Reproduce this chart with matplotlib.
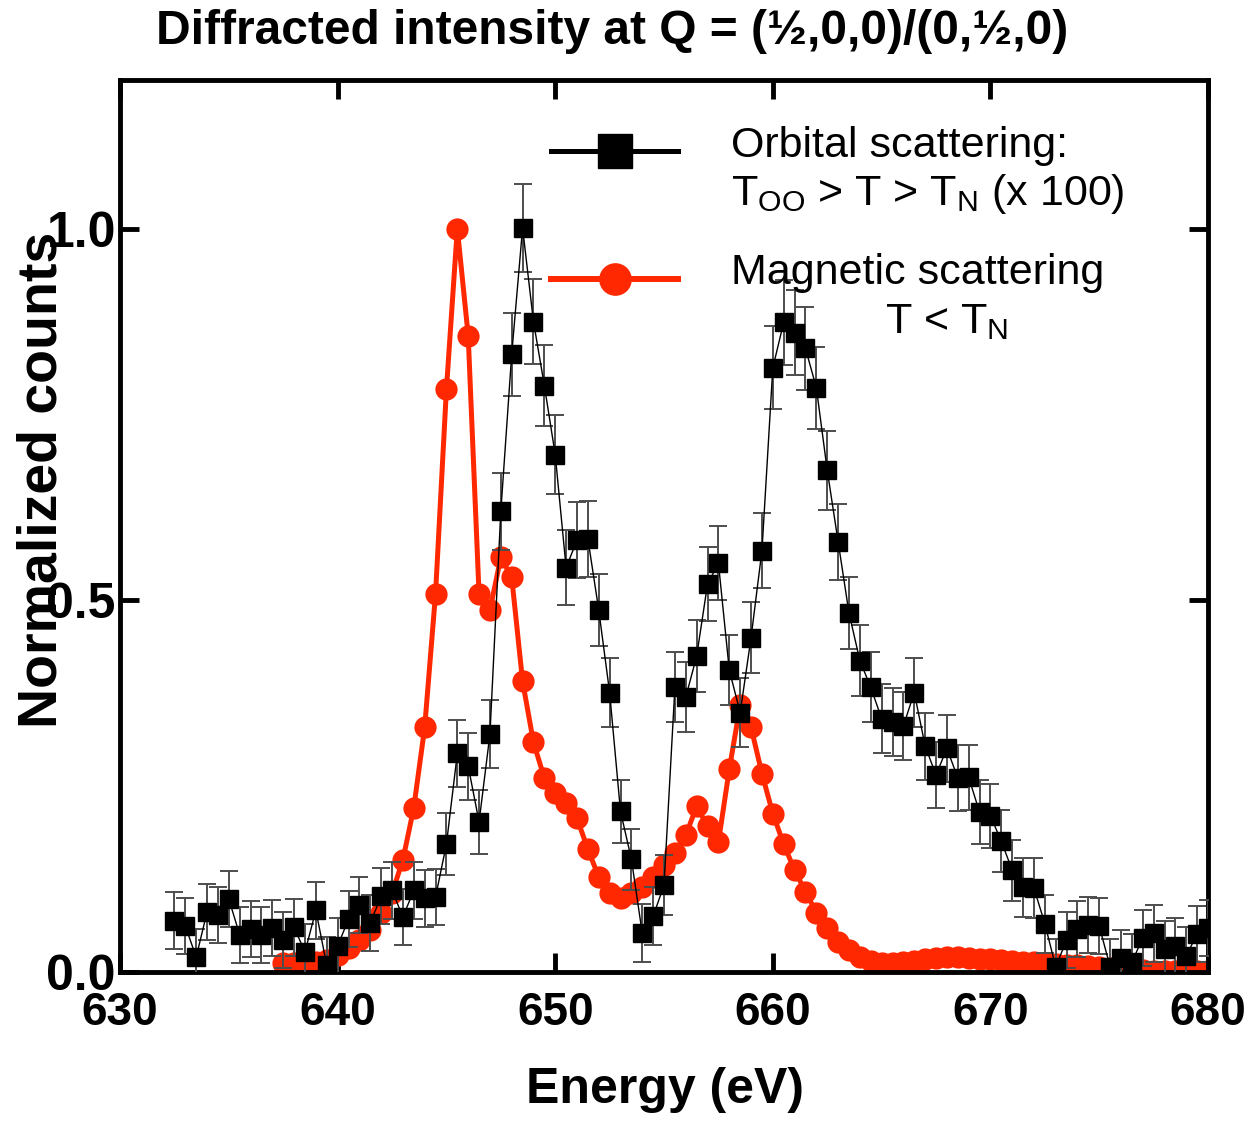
import matplotlib
matplotlib.use("Agg")
import matplotlib.pyplot as plt

plt.rcParams['font.family'] = ['Liberation Sans', 'DejaVu Sans']
plt.rcParams['mathtext.default'] = 'regular'

## Data
energy = [632.5, 633.0, 633.5, 634.0, 634.5, 635.0, 635.5, 636.0, 636.5, 637.0,
          637.5, 638.0, 638.5, 639.0, 639.5, 640.0, 640.5, 641.0, 641.5, 642.0,
          642.5, 643.0, 643.5, 644.0, 644.5, 645.0, 645.5, 646.0, 646.5, 647.0,
          647.5, 648.0, 648.5, 649.0, 649.5, 650.0, 650.5, 651.0, 651.5, 652.0,
          652.5, 653.0, 653.5, 654.0, 654.5, 655.0, 655.5, 656.0, 656.5, 657.0,
          657.5, 658.0, 658.5, 659.0, 659.5, 660.0, 660.5, 661.0, 661.5, 662.0,
          662.5, 663.0, 663.5, 664.0, 664.5, 665.0, 665.5, 666.0, 666.5, 667.0,
          667.5, 668.0, 668.5, 669.0, 669.5, 670.0, 670.5, 671.0, 671.5, 672.0,
          672.5, 673.0, 673.5, 674.0, 674.5, 675.0, 675.5, 676.0, 676.5, 677.0,
          677.5, 678.0, 678.5, 679.0, 679.5, 680.0]

# orbital scattering (x 100), with error bars
orbital = [0.069, 0.062, 0.020, 0.081, 0.077, 0.098, 0.050, 0.058, 0.050, 0.059,
           0.043, 0.060, 0.027, 0.083, 0.009, 0.035, 0.071, 0.090, 0.066, 0.102,
           0.110, 0.074, 0.110, 0.099, 0.101, 0.172, 0.294, 0.277, 0.202, 0.320,
           0.620, 0.831, 1.001, 0.875, 0.789, 0.696, 0.544, 0.581, 0.583, 0.487,
           0.376, 0.216, 0.152, 0.052, 0.075, 0.117, 0.383, 0.370, 0.425, 0.522,
           0.550, 0.406, 0.349, 0.450, 0.567, 0.813, 0.874, 0.860, 0.839, 0.786,
           0.675, 0.579, 0.483, 0.419, 0.383, 0.341, 0.336, 0.331, 0.376, 0.304,
           0.265, 0.301, 0.261, 0.262, 0.215, 0.210, 0.176, 0.137, 0.114, 0.113,
           0.065, 0.007, 0.043, 0.058, 0.063, 0.062, 0.007, 0.019, 0.013, 0.046,
           0.052, 0.031, 0.035, 0.022, 0.051, 0.059]

orbital_err = [0.038, 0.038, 0.038, 0.038, 0.038, 0.038, 0.038, 0.038, 0.038, 0.038,
               0.038, 0.038, 0.038, 0.038, 0.038, 0.038, 0.038, 0.038, 0.038, 0.038,
               0.038, 0.038, 0.038, 0.038, 0.038, 0.042, 0.045, 0.045, 0.043, 0.046,
               0.052, 0.056, 0.059, 0.057, 0.055, 0.053, 0.050, 0.051, 0.051, 0.049,
               0.047, 0.043, 0.041, 0.039, 0.039, 0.040, 0.047, 0.047, 0.048, 0.050,
               0.050, 0.047, 0.046, 0.048, 0.051, 0.056, 0.057, 0.057, 0.056, 0.055,
               0.053, 0.051, 0.049, 0.048, 0.047, 0.046, 0.046, 0.046, 0.047, 0.045,
               0.044, 0.045, 0.044, 0.044, 0.043, 0.043, 0.042, 0.041, 0.040, 0.040,
               0.039, 0.038, 0.038, 0.038, 0.038, 0.038, 0.038, 0.038, 0.038, 0.038,
               0.038, 0.038, 0.038, 0.038, 0.038, 0.038]

# magnetic scattering, starts at 637.5 eV
magnetic_energy = energy[10:]
magnetic = [0.012, 0.012, 0.012, 0.014, 0.016, 0.023, 0.032, 0.043, 0.056, 0.079,
            0.106, 0.151, 0.221, 0.329, 0.509, 0.784, 1.000, 0.856, 0.508, 0.487,
            0.558, 0.531, 0.391, 0.309, 0.261, 0.241, 0.228, 0.207, 0.165, 0.128,
            0.106, 0.099, 0.106, 0.114, 0.128, 0.144, 0.160, 0.184, 0.223, 0.196,
            0.175, 0.273, 0.359, 0.329, 0.267, 0.213, 0.172, 0.137, 0.108, 0.080,
            0.059, 0.041, 0.030, 0.020, 0.015, 0.012, 0.012, 0.013, 0.015, 0.017,
            0.019, 0.020, 0.020, 0.019, 0.018, 0.017, 0.016, 0.015, 0.014, 0.013,
            0.012, 0.011, 0.010, 0.009, 0.008, 0.007, 0.006, 0.005, 0.004, 0.003,
            0.002, 0.002, 0.002, 0.002, 0.002, 0.002]

x_ticks = [630, 640, 650, 660, 670, 680]
y_ticks = [0.0, 0.5, 1.0]

RED = '#ff2800'

fig = plt.figure(figsize=(12.49, 11.21), dpi=100)
ax = fig.add_axes([0.0961, 0.1329, 0.8711, 0.7957])

ax.plot(magnetic_energy, magnetic, 'o-', color=RED, ms=16, mec=RED, mew=0,
        lw=3.6, zorder=2)
ax.errorbar(energy, orbital, yerr=orbital_err, fmt='s-', color='black', ms=13,
            mec='black', lw=1.0, ecolor='0.3', elinewidth=1.4,
            capsize=6.5, capthick=1.4, zorder=3)

ax.set_xlim(630, 680)
ax.set_ylim(0, 1.2)
ax.set_xticks(x_ticks)
ax.set_yticks(y_ticks)
ax.set_yticklabels(['%.1f' % v for v in y_ticks])

for s in ax.spines.values():
    s.set_linewidth(3.5)
ax.tick_params(direction='in', length=14, width=3.5, top=True, right=True)
ax.tick_params(axis='x', pad=14)
ax.tick_params(axis='y', pad=3)
for lbl in ax.get_xticklabels():
    lbl.set_fontweight('bold')
    lbl.set_fontsize(33)
for lbl in ax.get_yticklabels():
    lbl.set_fontweight('bold')
    lbl.set_fontsize(36)

ax.set_xlabel('Energy (eV)', fontsize=36, fontweight='bold', va='center')
ax.xaxis.set_label_coords(0.501, -0.132)
ax.set_ylabel('Normalized counts', fontsize=40, fontweight='bold', va='center')
ax.yaxis.set_label_coords(-0.0717, 0.5516)

fig.text(0.49, 0.9715, 'Diffracted intensity at Q = (\u00bd,0,0)/(0,\u00bd,0)',
         fontsize=34.5, fontweight='bold', ha='center', va='center')

# legend drawn by hand
ax.plot([0.396, 0.513], [0.9204, 0.9204], color='black', lw=3.6,
        transform=ax.transAxes, clip_on=False, zorder=4)
ax.plot([0.4545], [0.9204], 's', color='black', ms=24,
        transform=ax.transAxes, clip_on=False, zorder=5)
ax.plot([0.396, 0.513], [0.7769, 0.7769], color=RED, lw=4.3,
        transform=ax.transAxes, clip_on=False, zorder=4)
ax.plot([0.4545], [0.7769], 'o', color=RED, ms=22.5,
        transform=ax.transAxes, clip_on=False, zorder=5)

fs = 31
ax.text(0.562, 0.9137, 'Orbital scattering:', fontsize=fs, transform=ax.transAxes,
        ha='left', va='baseline')
ax.text(0.562, 0.8599, r'T$_{OO}$ > T > T$_{N}$ (x 100)', fontsize=fs,
        transform=ax.transAxes, ha='left', va='baseline')
ax.text(0.562, 0.7713, 'Magnetic scattering', fontsize=fs, transform=ax.transAxes,
        ha='left', va='baseline')
ax.text(0.703, 0.7164, r'T < T$_{N}$', fontsize=fs, transform=ax.transAxes,
        ha='left', va='baseline')

fig.savefig('out.png', dpi=100)
